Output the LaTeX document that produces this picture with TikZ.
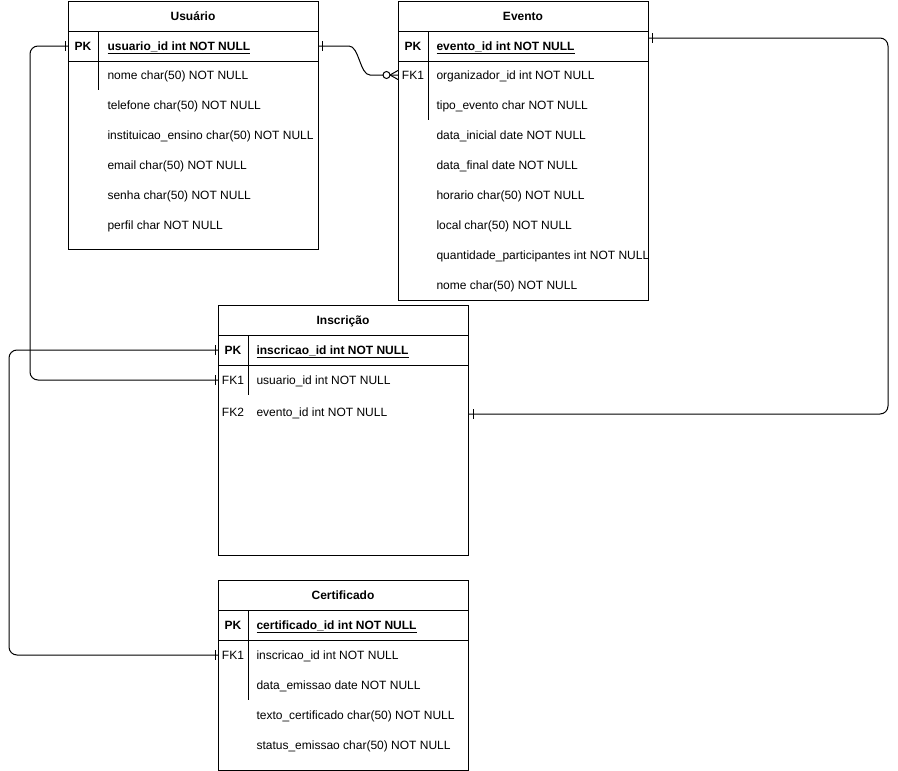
\documentclass[tikz,border=0pt]{standalone}
\usepackage{fontspec}
\setmainfont{Liberation Sans}
\usetikzlibrary{calc}
\begin{document}
\begin{tikzpicture}[x=1pt,y=-1pt,line width=1pt,
  font=\fontsize{12}{14}\selectfont,
  tbl/.style={draw,rectangle,minimum width=250pt,inner sep=0pt,anchor=north west},
  ttl/.style={font=\fontsize{12}{14}\selectfont\bfseries,inner sep=0pt,text height=9pt,text depth=0.6pt},
  fld/.style={anchor=west,inner sep=0pt,text height=9pt,text depth=0.6pt},
  key/.style={inner sep=0pt,text height=9pt,text depth=0.6pt},
  pkey/.style={key,font=\fontsize{12}{14}\selectfont\bfseries},
  pfld/.style={fld,font=\fontsize{12}{14}\selectfont\bfseries},
  rel/.style={line width=1pt,rounded corners=8pt},
  tick/.style={line width=1pt}]
\useasboundingbox (0,0) rectangle (898,771);

% ---------- Usuario ----------
\node[tbl,minimum height=248pt] (usuario) at (68,1) {};
\draw (68,31) -- (318,31);
\draw (68,61) -- (318,61);
\draw (98,31) -- (98,90);
\node[ttl] (u-t) at (193,16) {Usuário};
\node[pkey] (u-pk) at (83,46) {PK};
\node[pfld] (u-f0) at (107,46) {\underline{usuario\_id int NOT NULL}};
\node[fld] (u-f1) at (107,75) {nome char(50) NOT NULL};
\node[fld] (u-f2) at (107,105) {telefone char(50) NOT NULL};
\node[fld] (u-f3) at (107,135) {instituicao\_ensino char(50) NOT NULL};
\node[fld] (u-f4) at (107,165) {email char(50) NOT NULL};
\node[fld] (u-f5) at (107,195) {senha char(50) NOT NULL};
\node[fld] (u-f6) at (107,225) {perfil char NOT NULL};

% ---------- Evento ----------
\node[tbl,minimum height=299pt] (evento) at (398,1) {};
\draw (398,31) -- (648,31);
\draw (398,61) -- (648,61);
\draw (428,31) -- (428,120);
\node[ttl] (e-t) at (523,16) {Evento};
\node[pkey] (e-pk) at (413,46) {PK};
\node[pfld] (e-f0) at (436,46) {\underline{evento\_id int NOT NULL}};
\node[key] (e-fk1) at (413,75) {FK1};
\node[fld] (e-f1) at (436,75) {organizador\_id int NOT NULL};
\node[fld] (e-f2) at (436,105) {tipo\_evento char NOT NULL};
\node[fld] (e-f3) at (436,135) {data\_inicial date NOT NULL};
\node[fld] (e-f4) at (436,165) {data\_final date NOT NULL};
\node[fld] (e-f5) at (436,195) {horario char(50) NOT NULL};
\node[fld] (e-f6) at (436,225) {local char(50) NOT NULL};
\node[fld] (e-f7) at (436,255) {quantidade\_participantes int NOT NULL};
\node[fld] (e-f8) at (436,285) {nome char(50) NOT NULL};
\coordinate (e-pkr) at (648,38);

% ---------- Inscricao ----------
\node[tbl,minimum height=250pt] (insc) at (218,305) {};
\draw (218,335) -- (468,335);
\draw (218,365) -- (468,365);
\draw (248,335) -- (248,395);
\node[ttl] (i-t) at (343,320) {Inscrição};
\node[pkey] (i-pk) at (233,350) {PK};
\node[pfld] (i-f0) at (256,350) {\underline{inscricao\_id int NOT NULL}};
\node[key] (i-fk1) at (233,380) {FK1};
\node[fld] (i-f1) at (256,380) {usuario\_id int NOT NULL};
\node[key] (i-fk2) at (233,412) {FK2};
\node[fld] (i-f2) at (256,412) {evento\_id int NOT NULL};

% ---------- Certificado ----------
\node[tbl,minimum height=190pt] (cert) at (218,580) {};
\draw (218,610) -- (468,610);
\draw (218,640) -- (468,640);
\draw (248,610) -- (248,700);
\node[ttl] (c-t) at (343,595) {Certificado};
\node[pkey] (c-pk) at (233,625) {PK};
\node[pfld] (c-f0) at (256,625) {\underline{certificado\_id int NOT NULL}};
\node[key] (c-fk1) at (233,655) {FK1};
\node[fld] (c-f1) at (256,655) {inscricao\_id int NOT NULL};
\node[fld] (c-f2) at (256,685) {data\_emissao date NOT NULL};
\node[fld] (c-f3) at (256,715) {texto\_certificado char(50) NOT NULL};
\node[fld] (c-f4) at (256,745) {status\_emissao char(50) NOT NULL};

% ---------- Relationships ----------
% Usuario PK -> Evento FK1 (one to zero-or-many)
\draw[rel] (usuario.east |- u-pk) -- ++(22,0)
   .. controls +(18,0) and +(-18,0) .. ($(evento.west |- e-fk1)+(-20,0)$)
   -- (evento.west |- e-fk1);
\draw[tick] ($(usuario.east |- u-pk)+(3,-5)$) -- ++(0,10);
\draw[fill=white] ($(evento.west |- e-fk1)+(-11.5,0)$) circle[radius=3.5pt];
\draw ($(evento.west |- e-fk1)+(-8,0)$) -- ($(evento.west |- e-fk1)+(0,-4.5)$);
\draw ($(evento.west |- e-fk1)+(-8,0)$) -- ($(evento.west |- e-fk1)+(0,4.5)$);

% Evento PK -> Inscricao FK2
\draw[rel] (e-pkr) -- (888,38) -- (888,414) -- (insc.east |- 0,414);
\draw[tick] ($(e-pkr)+(4,-5)$) -- ++(0,10);
\draw[tick] ($(insc.east |- 0,414)+(4,-5)$) -- ++(0,10);

% Usuario PK -> Inscricao FK1
\draw[rel] (usuario.west |- u-pk) -- (30,46) -- (30,380) -- (insc.west |- i-fk1);
\draw[tick] ($(usuario.west |- u-pk)+(-3,-5)$) -- ++(0,10);
\draw[tick] ($(insc.west |- i-fk1)+(-3,-5)$) -- ++(0,10);

% Inscricao PK -> Certificado FK1
\draw[rel] (insc.west |- i-pk) -- (9,350) -- (9,655) -- (cert.west |- c-fk1);
\draw[tick] ($(insc.west |- i-pk)+(-3,-5)$) -- ++(0,10);
\draw[tick] ($(cert.west |- c-fk1)+(-3,-5)$) -- ++(0,10);
\end{tikzpicture}
\end{document}
